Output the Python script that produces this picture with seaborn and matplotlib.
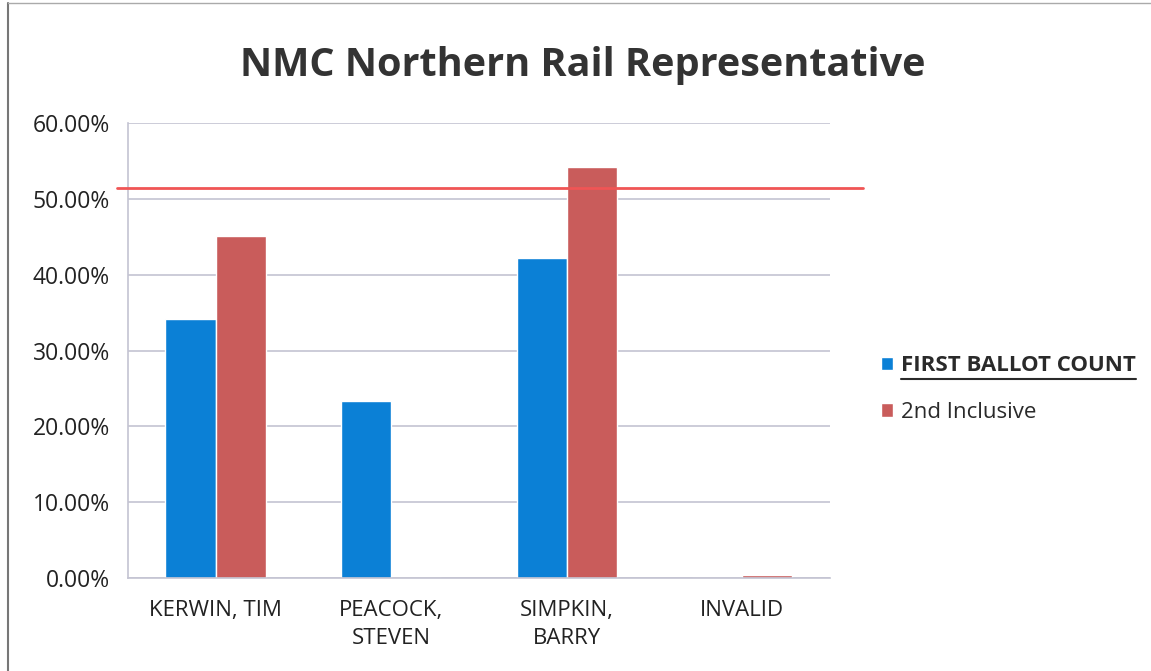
import pandas as pd
import numpy as np
import matplotlib
matplotlib.use("Agg")
import matplotlib.pyplot as plt
import seaborn as sns
from matplotlib.patches import Patch
from matplotlib.lines import Line2D

# data
candidates = ["KERWIN, TIM", "PEACOCK,\nSTEVEN", "SIMPKIN,\nBARRY", "INVALID"]
first_ballot = [34.1, 23.4, 42.2, 0.0]
second_inclusive = [45.1, 0.0, 54.2, 0.35]
series_names = ["FIRST BALLOT COUNT", "2nd Inclusive"]
threshold = 51.5
yticks = [0, 10, 20, 30, 40, 50, 60]

blue = "#0b80d6"
red = "#c95c5b"

df = pd.DataFrame({
    "candidate": candidates * 2,
    "series": [series_names[0]] * 4 + [series_names[1]] * 4,
    "pct": first_ballot + second_inclusive,
})

sns.set_style("white")
plt.rcParams["font.family"] = ["Open Sans", "DejaVu Sans"]

fig = plt.figure(figsize=(11.51, 6.71), dpi=100)
ax = fig.add_axes([0.111, 0.1386, 0.61, 0.678])

sns.barplot(data=df, x="candidate", y="pct", hue="series",
            palette=[blue, red], width=0.57, gap=0, ax=ax,
            saturation=1, legend=False, errorbar=None)

ax.set_ylim(0, 60)
ax.set_yticks(yticks)
ax.set_yticklabels([f"{v:.2f}%" for v in yticks], fontsize=16.5, color="#222222")
ax.tick_params(axis="x", labelsize=16, colors="#222222", length=0, pad=16)
ax.tick_params(axis="y", length=0, pad=13)
for lbl in ax.get_xticklabels():
    lbl.set_linespacing(1.45)
ax.set_xlim(-0.5, 3.5)
ax.set_xlabel("")
ax.set_ylabel("")
ax.yaxis.grid(True, color="#c4c4d2", linewidth=1.2)
ax.set_axisbelow(True)
for s in ["top", "right"]:
    ax.spines[s].set_visible(False)
ax.spines["left"].set_color("#c4c4d2")
ax.spines["bottom"].set_color("#c4c4d2")
ax.spines["left"].set_linewidth(1.2)
ax.spines["bottom"].set_linewidth(1.2)

# majority line
ax.axhline(threshold, xmin=-0.016, xmax=1.047, color="#f05555",
           linewidth=2, clip_on=False, zorder=5)

fig.text(0.506, 0.903, "NMC Northern Rail Representative", ha="center",
         va="center", fontsize=28.5, fontweight="bold", color="#333333")

handles = [Patch(facecolor=blue), Patch(facecolor=red)]
leg = fig.legend(handles, series_names, loc="center left",
                 bbox_to_anchor=(0.748, 0.42), frameon=False,
                 fontsize=16, handlelength=0.55, handleheight=0.55,
                 handletextpad=0.35, labelspacing=1.15)
t0 = leg.get_texts()[0]
t0.set_fontweight("bold")
for t in leg.get_texts():
    t.set_color("#2a2a2a")

# underline the first legend entry
fig.canvas.draw()
bb = t0.get_window_extent().transformed(fig.transFigure.inverted())
fig.add_artist(Line2D([bb.x0, bb.x1], [bb.y0 - 0.004, bb.y0 - 0.004],
                      transform=fig.transFigure, color="#2a2a2a", linewidth=1.5))

# scan frame
fig.add_artist(Line2D([0.007, 0.007], [0, 0.995], transform=fig.transFigure,
                      color="#777777", linewidth=1.5))
fig.add_artist(Line2D([0.007, 1], [0.995, 0.995], transform=fig.transFigure,
                      color="#aaaaaa", linewidth=1))

fig.savefig("out.png", dpi=100)
